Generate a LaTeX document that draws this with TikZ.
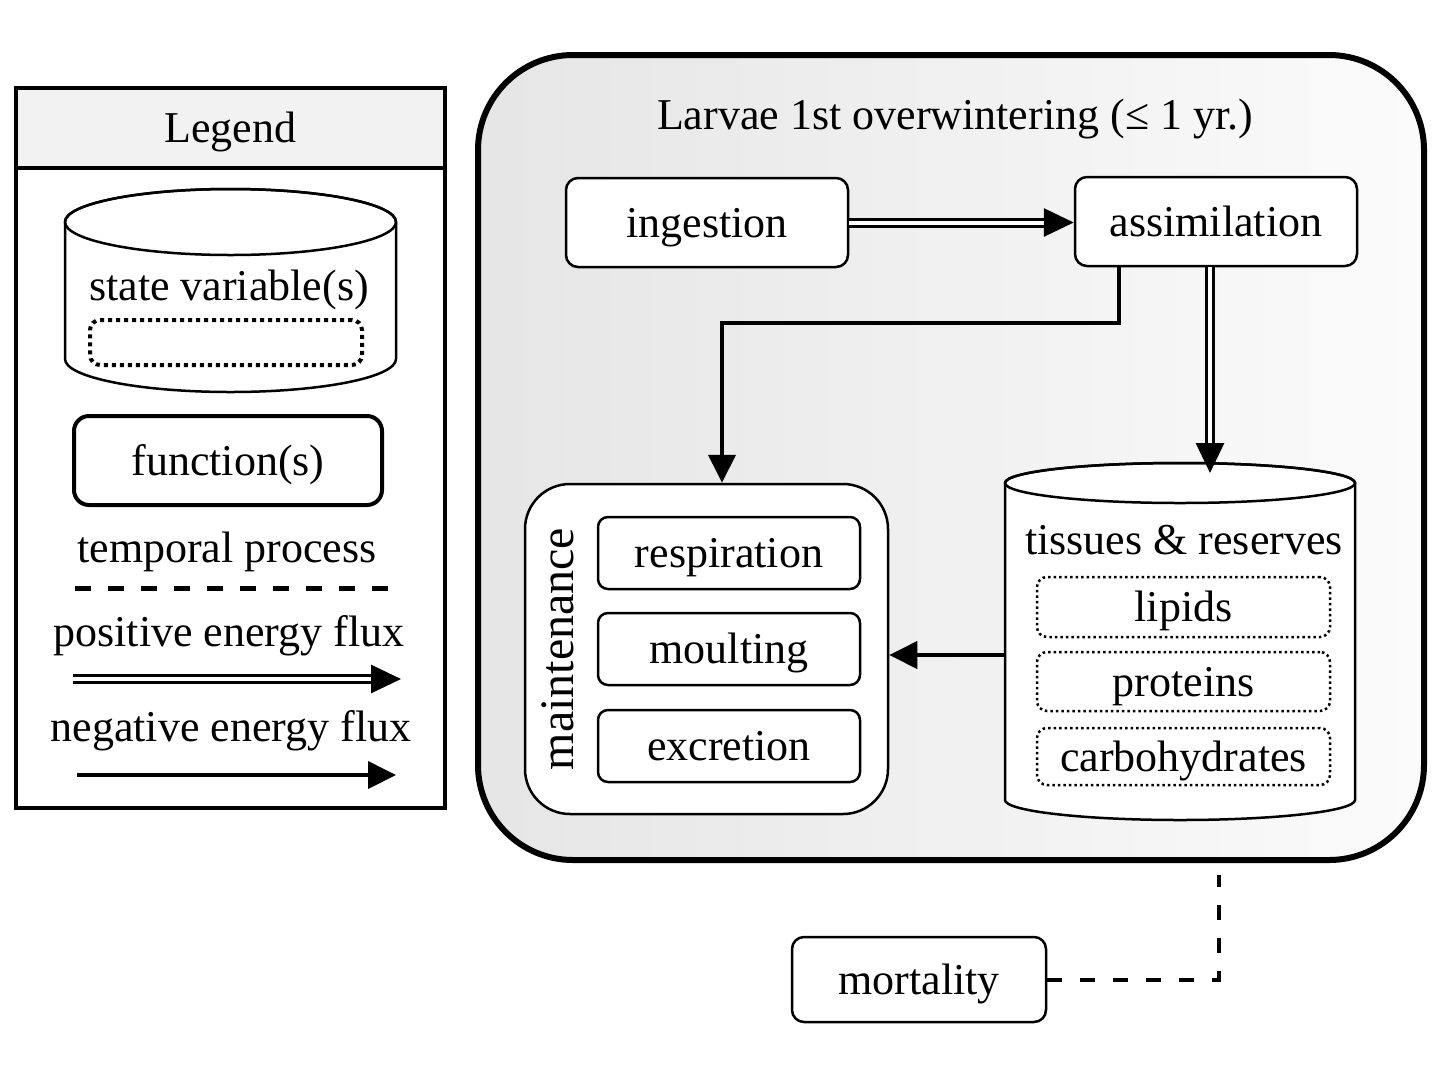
\documentclass[tikz,border=0pt]{standalone}
\usepackage{fontspec}
\setmainfont{Liberation Serif}
\usetikzlibrary{arrows.meta}
\begin{document}
\begin{tikzpicture}[x=1pt,y=-1pt,
 every node/.style={font=\fontsize{44}{52}\selectfont, inner sep=0pt, text height=35pt, text depth=6pt},
 fbox/.style={draw, line width=2.5pt, rounded corners=12pt, fill=white},
 dotbox/.style={draw, line width=2.5pt, dash pattern=on 2.5pt off 3pt, rounded corners=10pt},
 cyl/.style={draw, line width=2.5pt, fill=white},
 negflux/.style={line width=4pt, -{Triangle[length=28pt,width=27pt]}},
 posflux/.style={line width=3pt, double, double distance=4pt, -{Triangle[length=30pt,width=28pt]}},
 temporal/.style={line width=5pt, dash pattern=on 16pt off 17pt}
]
\useasboundingbox (0,0) rectangle (1442,1069);

% ---------------- Legend ----------------
\node[draw, line width=4pt, minimum width=429pt, minimum height=720pt] (legend) at (230.5,448) {};
\node[draw, line width=4pt, fill=gray!10, minimum width=429pt, minimum height=80pt] (legtitle) at (230.5,128) {Legend};

\draw[cyl] (65,222) -- (65,359) arc[start angle=180, end angle=360, x radius=165.5pt, y radius=33pt]
  -- (396,222) arc[start angle=0, end angle=180, x radius=165.5pt, y radius=33pt] -- cycle;
\draw[line width=2.5pt] (230.5,222) ellipse [x radius=165.5pt, y radius=33pt];
\node (sv) at (229,286) {state variable(s)};
\node[draw, line width=4pt, dash pattern=on 4pt off 4pt, rounded corners=10pt, minimum width=272pt, minimum height=45pt] (svbox) at (226,342.5) {};

\node[fbox, line width=4pt, rounded corners=15pt, minimum width=308pt, minimum height=89pt] (fn) at (228,460.5) {function(s)};

\node (tp) at (227,548) {temporal process};
\coordinate (tpA) at (75,588);
\coordinate (tpB) at (395,588);
\draw[temporal] (tpA) -- (tpB);

\node (pf) at (229,632) {positive energy flux};
\coordinate (pfA) at (73,679);
\coordinate (pfB) at (401,679);
\draw[posflux] (pfA) -- (pfB);

\node (nf) at (231,727) {negative energy flux};
\coordinate (nfA) at (77,775);
\coordinate (nfB) at (396,775);
\draw[negflux] (nfA) -- (nfB);

% ---------------- Main box ----------------
\node[draw, line width=6pt, rounded corners=95pt, minimum width=946pt, minimum height=805pt,
      left color=gray!20, right color=gray!3] (main) at (951,457.5) {};
\node (title) at (955,115) {Larvae 1st overwintering (≤ 1 yr.)};

\node[fbox, minimum width=282pt, minimum height=89pt] (ing) at (707,222.5) {ingestion};
\node[fbox, minimum width=282pt, minimum height=89pt] (asm) at (1216,221.5) {assimilation};

% maintenance
\node[fbox, rounded corners=45pt, minimum width=363pt, minimum height=330pt] (maint) at (706.5,649) {};
\node[rotate=90, font=\fontsize{48}{56}\selectfont, text height=34pt, text depth=11pt] (mlabel) at (562,649) {maintenance};
\node[fbox, rounded corners=10pt, minimum width=262pt, minimum height=72pt] (resp) at (729,553) {respiration};
\node[fbox, rounded corners=10pt, minimum width=262pt, minimum height=72pt] (moult) at (729,649) {moulting};
\node[fbox, rounded corners=10pt, minimum width=262pt, minimum height=72pt] (excr) at (729,746) {excretion};

% tissues cylinder
\draw[cyl] (1005,483) -- (1005,800) arc[start angle=180, end angle=360, x radius=175pt, y radius=20pt]
  -- (1355,483) arc[start angle=0, end angle=180, x radius=175pt, y radius=20pt] -- cycle;
\draw[line width=2.5pt] (1180,483) ellipse [x radius=175pt, y radius=20pt];
\node[minimum width=350pt, minimum height=318pt] (tis) at (1180,655) {};
\coordinate (tistop) at (1210,473);
\node (tistxt) at (1184,540) {tissues \& reserves};
\node[dotbox, minimum width=293pt, minimum height=60pt] (lip) at (1183.5,607) {lipids};
\node[dotbox, minimum width=293pt, minimum height=59pt] (prot) at (1183.5,681.5) {proteins};
\node[dotbox, minimum width=293pt, minimum height=57pt] (carb) at (1183.5,756.5) {carbohydrates};

% mortality
\node[fbox, minimum width=254pt, minimum height=85pt] (mort) at (919,979.5) {mortality};

% ---------------- Connectors ----------------
\draw[posflux] (ing.east) -- (asm.west |- ing.east);
\draw[negflux] ([xshift=-97pt]asm.south) -- ++(0,56) -| ([xshift=15.5pt]maint.north);
\draw[posflux] ([xshift=-6pt]asm.south) -- (tistop);
\draw[negflux] (tis.west) -- (tis.west -| maint.east);
\draw[temporal, line width=4pt, dash pattern=on 15pt off 18pt] (mort.east) -| ([xshift=268pt,yshift=-12pt]main.south);
\end{tikzpicture}
\end{document}
